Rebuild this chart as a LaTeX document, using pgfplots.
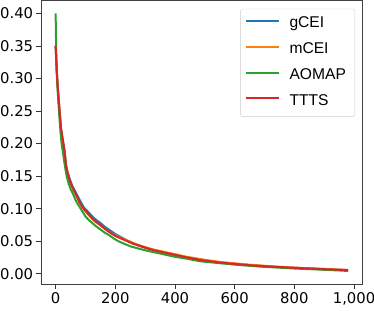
\documentclass[border=0pt]{standalone}
\usepackage{fontspec}
\setmainfont{DejaVu Sans}
\newfontfamily\legfont{Liberation Sans}
\usepackage{pgfplots}
\usepackage{pgfplotstable}
\pgfplotsset{compat=1.18}
\definecolor{cblue}{RGB}{31,119,180}
\definecolor{corange}{RGB}{255,127,14}
\definecolor{cgreen}{RGB}{44,160,44}
\definecolor{cred}{RGB}{214,39,40}

\pgfplotstableread{
x y
0 0.350
3 0.318
6 0.294
9 0.276
12 0.257
15 0.241
18 0.223
22 0.211
26 0.200
30 0.189
35 0.167
40 0.156
45 0.149
50 0.142
57 0.134
64 0.128
72 0.121
80 0.114
88 0.107
96 0.101
105 0.097
115 0.092
125 0.087
135 0.083
150 0.078
165 0.072
184 0.066
200 0.061
220 0.056
240 0.051
260 0.047
280 0.043
300 0.040
330 0.036
360 0.033
400 0.029
440 0.025
486 0.021
520 0.0192
553 0.0172
600 0.0152
653 0.0131
700 0.0116
750 0.0103
800 0.0091
850 0.0081
900 0.0071
950 0.0062
980 0.0056
}\gcei

\pgfplotstableread{
x y
0 0.350
3 0.319
6 0.293
9 0.274
12 0.256
15 0.239
18 0.221
22 0.209
26 0.197
30 0.186
35 0.166
40 0.154
45 0.146
50 0.139
57 0.131
64 0.124
72 0.117
80 0.109
88 0.103
96 0.098
105 0.093
115 0.088
125 0.083
135 0.079
150 0.074
165 0.069
180 0.064
200 0.059
220 0.055
240 0.051
260 0.047
280 0.044
300 0.041
330 0.037
360 0.034
400 0.030
440 0.026
486 0.0225
520 0.020
553 0.018
600 0.016
653 0.0138
700 0.0122
750 0.0107
800 0.0094
850 0.0083
900 0.0073
950 0.0063
980 0.0057
}\mcei

\pgfplotstableread{
x y
0 0.400
2 0.340
4 0.305
7 0.280
10 0.258
13 0.238
16 0.220
20 0.200
24 0.188
28 0.175
33 0.160
38 0.148
44 0.138
50 0.130
59 0.122
66 0.114
74 0.107
84 0.100
92 0.094
100 0.088
110 0.083
120 0.079
135 0.073
150 0.068
165 0.063
180 0.059
195 0.054
210 0.050
230 0.046
251 0.042
275 0.039
300 0.036
330 0.033
360 0.030
400 0.026
440 0.023
486 0.019
520 0.0175
553 0.016
600 0.014
653 0.012
700 0.0105
750 0.0093
800 0.0080
850 0.0070
900 0.0060
950 0.0050
980 0.0042
}\aomap

\pgfplotstableread{
x y
0 0.350
3 0.320
6 0.295
9 0.275
12 0.258
15 0.240
18 0.224
22 0.212
26 0.200
30 0.188
35 0.166
40 0.155
45 0.147
50 0.140
57 0.132
64 0.126
72 0.118
80 0.110
88 0.104
96 0.099
105 0.094
115 0.089
125 0.084
135 0.080
150 0.075
165 0.069
180 0.064
200 0.058
220 0.054
240 0.050
260 0.046
280 0.043
300 0.040
330 0.036
360 0.033
400 0.029
440 0.025
486 0.021
520 0.019
553 0.017
600 0.015
653 0.013
700 0.0115
750 0.0102
800 0.0090
850 0.0080
900 0.0070
950 0.0060
980 0.0055
}\ttts

\begin{document}
\begin{tikzpicture}
\begin{axis}[
  scale only axis,
  width=321.7pt, height=283.5pt,
  xmin=-49, xmax=1029, ymin=-0.0158, ymax=0.4198,
  xtick={0,200,400,600,800,1000},
  ytick={0,0.05,0.1,0.15,0.2,0.25,0.3,0.35,0.4},
  yticklabel style={inner xsep=2.8pt, /pgf/number format/fixed, /pgf/number format/fixed zerofill, /pgf/number format/precision=2},
  /pgf/number format/assume math mode=true,
  ticklabel style={font=\fontsize{14.8}{17}\selectfont},
  tick align=outside, tick pos=left, major tick length=4.9pt,
  tick style={black!80, line width=0.8pt},
  axis line style={black!75, line width=0.8pt},
  legend style={at={(1,1)}, anchor=north east, xshift=-7.7pt, yshift=-8.3pt,
    draw=black!20, rounded corners=2pt, fill=white, fill opacity=0.8, text opacity=1,
    font=\legfont\fontsize{15.6}{18}\selectfont,
    inner xsep=4.7pt, inner ysep=8pt, row sep=11.2pt, column sep=9.3pt,
    nodes={inner sep=0pt, text height=11pt, text depth=3.5pt}},
  legend cell align=left,
  legend image code/.code={\draw[#1, line width=2pt] (0pt,0.3em) -- (33pt,0.3em);},
]
\addplot[draw=cblue, line width=2pt, line join=round] table {\gcei};
\addlegendentry{gCEI}
\addplot[draw=corange, line width=2pt, line join=round] table {\mcei};
\addlegendentry{mCEI}
\addplot[draw=cgreen, line width=2pt, line join=round] table {\aomap};
\addlegendentry{AOMAP\hspace*{4.2pt}}
\addplot[draw=cred, line width=2pt, line join=round] table {\ttts};
\addlegendentry{TTTS}
\end{axis}
\pgfresetboundingbox
\path[use as bounding box] ([xshift=-41pt,yshift=-26pt]current axis.south west) rectangle ([xshift=11.3pt,yshift=0.5pt]current axis.north east);
\end{tikzpicture}
\end{document}
